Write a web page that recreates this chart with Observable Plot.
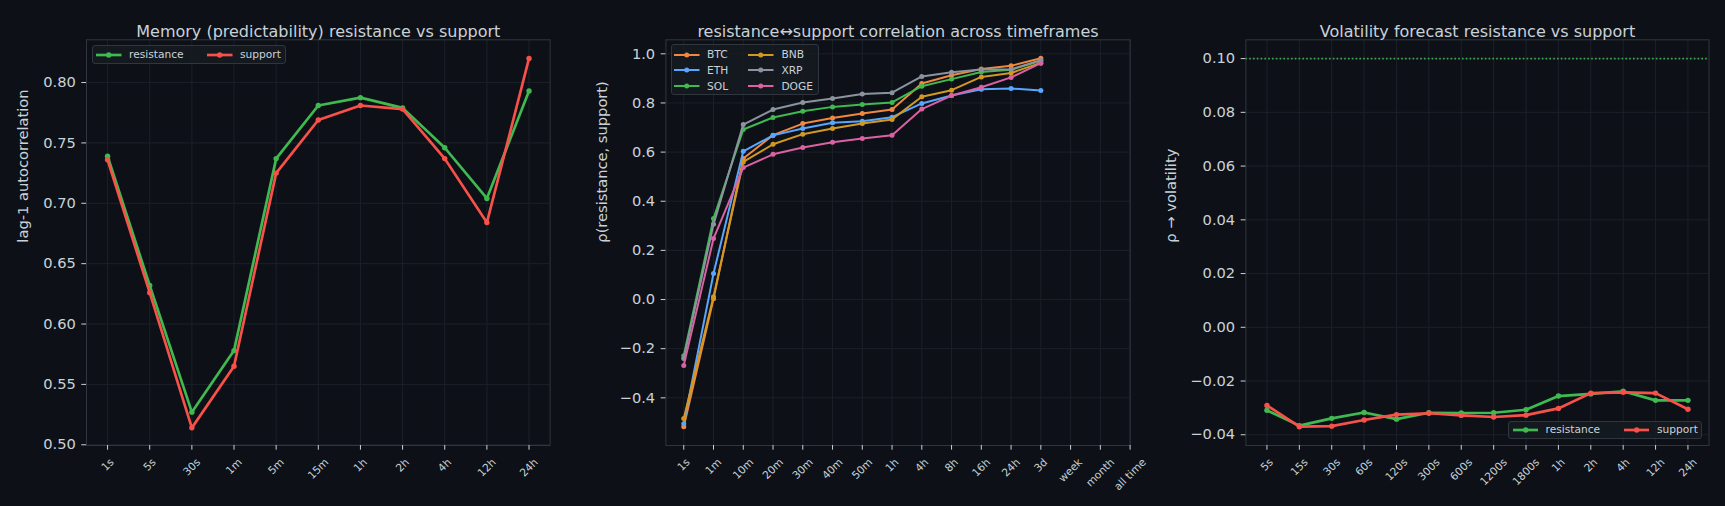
<!DOCTYPE html>
<html><head><meta charset="utf-8">
<script src="https://cdn.jsdelivr.net/npm/d3@7"></script>
<script src="https://cdn.jsdelivr.net/npm/@observablehq/plot@0.6"></script>
<style>
html,body{margin:0;padding:0;background:#0d1117;}
#wrap{position:relative;width:1725px;height:506px;background:#0d1117;overflow:hidden;font-family:"DejaVu Sans",sans-serif;}
.panel{position:absolute;top:0;}
.legend{position:absolute;box-sizing:border-box;border:1px solid #30363d;border-radius:3px;background:rgba(22,27,34,0.8);color:#c9d1d9;font-size:10.67px;display:grid;align-items:center;}
.legend .item{display:flex;align-items:center;white-space:nowrap;}
.legend svg{display:block;margin-right:7.5px;}
</style></head><body><div id="wrap"></div>
<script>
// ---- Panel 1: memory ----
const memTimeframes = ["1s","5s","30s","1m","5m","15m","1h","2h","4h","12h","24h"];
const memResistance = [0.739,0.632,0.527,0.578,0.737,0.781,0.7875,0.779,0.746,0.704,0.793];
const memSupport    = [0.736,0.626,0.514,0.565,0.725,0.769,0.781,0.778,0.737,0.684,0.820];

// ---- Panel 2: correlation ----
const corrTimeframes = ["1s","1m","10m","20m","30m","40m","50m","1h","4h","8h","16h","24h","3d","week","month","all time"];
const corrBTC  = [-0.518,0.003,0.574,0.669,0.716,0.739,0.757,0.773,0.879,0.913,0.938,0.951,0.982];
const corrETH  = [-0.505,0.106,0.603,0.668,0.696,0.719,0.726,0.742,0.798,0.830,0.856,0.859,0.851];
const corrSOL  = [-0.229,0.330,0.692,0.741,0.766,0.784,0.794,0.802,0.868,0.897,0.926,0.935,0.972];
const corrBNB  = [-0.484,0.011,0.560,0.632,0.673,0.696,0.716,0.733,0.825,0.852,0.906,0.922,0.963];
const corrXRP  = [-0.240,0.306,0.712,0.773,0.802,0.818,0.836,0.842,0.908,0.925,0.936,0.937,0.974];
const corrDOGE = [-0.268,0.248,0.537,0.591,0.619,0.640,0.655,0.669,0.775,0.830,0.864,0.904,0.962];
const corrAssets = ["BTC","ETH","SOL","BNB","XRP","DOGE"];

// ---- Panel 3: volatility ----
const volTimeframes = ["5s","15s","30s","60s","120s","300s","600s","1200s","1800s","1h","2h","4h","12h","24h"];
const volResistance = [-0.0309,-0.0366,-0.0339,-0.0317,-0.0342,-0.0318,-0.0319,-0.0318,-0.0307,-0.0256,-0.0248,-0.0238,-0.0272,-0.0272];
const volSupport    = [-0.0291,-0.0370,-0.0368,-0.0345,-0.0325,-0.0320,-0.0328,-0.0334,-0.0327,-0.0302,-0.0245,-0.0242,-0.0245,-0.0305];
const volThreshold = 0.10;

const memYTicks = [0.50,0.55,0.60,0.65,0.70,0.75,0.80];
const corrYTicks = [-0.4,-0.2,0.0,0.2,0.4,0.6,0.8,1.0];
const volYTicks = [-0.04,-0.02,0.00,0.02,0.04,0.06,0.08,0.10];

const C = {bg:"#0d1117", text:"#c9d1d9", grid:"#1b2029", frame:"#30363d",
  res:"#3fb950", sup:"#f85149",
  BTC:"#f0883e", ETH:"#58a6ff", SOL:"#3fb950", BNB:"#d29922", XRP:"#8b949e", DOGE:"#db61a2"};

const ctx = document.createElement("canvas").getContext("2d");
ctx.font = "10.67px 'DejaVu Sans'";
const tw = s => ctx.measureText(s).width;

function panel(o) {
  const xt = d3.range(o.labels.length);
  const labelMarks = xt.map(i => Plot.text([i], {
    x: d => d, frameAnchor: "bottom", rotate: -45, text: d => o.labels[d],
    fontSize: 10.67, fill: C.text, textAnchor: "middle", lineAnchor: "middle",
    dy: 10.5 + (tw(o.labels[i]) + 12.5) * 0.354
  }));
  const seriesMarks = o.series.flatMap(s => {
    const rows = s.values.map((v, i) => ({i, v}));
    return [
      Plot.line(rows, {x: "i", y: "v", stroke: s.color, strokeWidth: o.sw}),
      Plot.dot(rows, {x: "i", y: "v", fill: s.color, r: o.r})
    ];
  });
  return Plot.plot({
    width: 575, height: 506,
    marginLeft: o.ml, marginRight: o.mr, marginTop: 39.3, marginBottom: 61,
    style: {background: "transparent", color: C.text, fontFamily: "DejaVu Sans", fontSize: "14.67px", overflow: "visible"},
    x: {type: "linear", domain: o.xDomain, label: null},
    y: {domain: o.yDomain, label: null},
    marks: [
      Plot.gridX(xt, {stroke: C.grid, strokeOpacity: 1}),
      Plot.gridY(o.yTicks, {stroke: C.grid, strokeOpacity: 1}),
      ...(o.extra || []),
      ...seriesMarks,
      Plot.frame({stroke: C.frame}),
      Plot.axisY(o.yTicks, {tickSize: 4.7, tickPadding: 6, tickFormat: o.yFormat, label: null, stroke: C.text, fill: C.text}),
      Plot.axisX(xt, {tickSize: 4.7, tickFormat: () => "", label: null, stroke: C.text}),
      ...labelMarks,
      Plot.text([o.title], {frameAnchor: "top", dy: -14.3, fontSize: 16, fill: C.text, text: d => d}),
      Plot.text([o.ylabel], {frameAnchor: "left", dx: -o.ylOff, rotate: -90, fontSize: 14.67, fill: C.text, text: d => d})
    ]
  });
}

function swatch(color, sw, r) {
  return `<svg width="25.5" height="10"><line x1="0" y1="5" x2="25.5" y2="5" stroke="${color}" stroke-width="${sw}"/><circle cx="12.75" cy="5" r="${r}" fill="${color}"/></svg>`;
}
function legend(items, o) {
  const d = document.createElement("div");
  d.className = "legend";
  Object.assign(d.style, {left: o.left + "px", top: o.top + "px", width: o.width + "px", height: o.height + "px",
    gridTemplateColumns: o.cols, gridTemplateRows: o.rows, paddingLeft: o.pad + "px", paddingTop: o.pt + "px",
    gridAutoFlow: o.flow || "row", alignContent: "start"});
  d.innerHTML = items.map(it => `<div class="item">${swatch(it.color, o.sw, o.r)}<span>${it.name}</span></div>`).join("");
  return d;
}

const wrap = document.getElementById("wrap");
function place(el, left) { const d = document.createElement("div"); d.className = "panel"; d.style.left = left + "px"; d.appendChild(el); wrap.appendChild(d); }

place(panel({
  labels: memTimeframes, xDomain: [-0.5, 10.5], yDomain: [0.4994, 0.8354], yTicks: memYTicks, yFormat: d3.format(".2f"),
  series: [{values: memResistance, color: C.res}, {values: memSupport, color: C.sup}], sw: 2.67, r: 2.7,
  ml: 86, mr: 25.4, title: "Memory (predictability) resistance vs support", ylabel: "lag-1 autocorrelation", ylOff: 62.8
}), 0);

const corrSeries = [corrBTC, corrETH, corrSOL, corrBNB, corrXRP, corrDOGE].map((v, k) => ({values: v, color: C[corrAssets[k]]}));
place(panel({
  labels: corrTimeframes, xDomain: [-0.6, 15], yDomain: [-0.594, 1.057], yTicks: corrYTicks, yFormat: d3.format(".1f"),
  series: corrSeries, sw: 2, r: 2.5,
  ml: 90.4, mr: 20.4, title: "resistance\u2194support correlation across timeframes", ylabel: "\u03c1(resistance, support)", ylOff: 64
}), 575);

place(panel({
  labels: volTimeframes, xDomain: [-0.65, 13.65], yDomain: [-0.0440, 0.1070], yTicks: volYTicks, yFormat: d3.format(".2f"),
  series: [{values: volResistance, color: C.res}, {values: volSupport, color: C.sup}], sw: 2.67, r: 2.7,
  extra: [Plot.ruleY([volThreshold], {stroke: C.res, strokeOpacity: 0.9, strokeWidth: 1.6, strokeDasharray: "1.6,2.2"})],
  ml: 95.4, mr: 16.5, title: "Volatility forecast resistance vs support", ylabel: "\u03c1 \u2192 volatility", ylOff: 74.6
}), 1150);

wrap.appendChild(legend([{name: "resistance", color: C.res}, {name: "support", color: C.sup}],
  {left: 92, top: 45, width: 194, height: 19.3, cols: "111px auto", rows: "17.3px", pad: 3, pt: 0, sw: 2.67, r: 2.7}));
wrap.appendChild(legend(corrAssets.map(a => ({name: a, color: C[a]})),
  {left: 671, top: 44.3, width: 148.3, height: 50.7, cols: "74.4px auto", rows: "repeat(3, 15.7px)", pad: 2, pt: 1.5, sw: 2, r: 2.5, flow: "column"}));
wrap.appendChild(legend([{name: "resistance", color: C.res}, {name: "support", color: C.sup}],
  {left: 1508, top: 420.7, width: 193.5, height: 18, cols: "111.4px auto", rows: "16px", pad: 3.5, pt: 0, sw: 2.67, r: 2.7}));
</script>
</body></html>
